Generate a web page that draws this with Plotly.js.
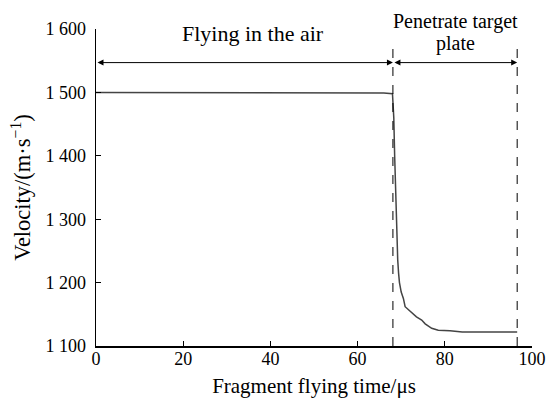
<!DOCTYPE html>
<html><head><meta charset="utf-8">
<script src="https://cdn.plot.ly/plotly-3.0.1.min.js"></script>
<style>html,body{margin:0;padding:0;background:#fff}</style>
</head><body>
<div id="chart" style="width:551px;height:405px"></div>
<script>
const time = [0, 5, 12, 13, 30, 50, 66, 68.0, 68.3, 68.5, 68.7, 69.0, 69.2, 69.4, 69.6, 70.0, 70.5, 70.9, 71.5, 72.5, 73.5, 74.7, 75.5, 77.0, 78.5, 81.2, 84, 88.8, 92, 96.6];
const velocity = [1500, 1500, 1500, 1499, 1499, 1499, 1499, 1498, 1460, 1400, 1341, 1280, 1236, 1215, 1200, 1185, 1175, 1162, 1158, 1152, 1146, 1141, 1135, 1128, 1125, 1124, 1122, 1122, 1122, 1122];
const phaseBounds = [0, 68.1, 96.6];
const flyLabel = "Flying in the air";
const penLabel1 = "Penetrate target";
const penLabel2 = "plate";
const arrowLevel = 1547;
const yTicks = [1100, 1200, 1300, 1400, 1500, 1600];
const yTickText = ["1 100", "1 200", "1 300", "1 400", "1 500", "1 600"];
const xTicks = [0, 20, 40, 60, 80, 100];

const fam = "'Times New Roman', 'Liberation Serif', serif";
const tickFont = {family: fam, size: 18, color: "#000"};
const titleFont = {family: fam, size: 21, color: "#000"};
const noteFont = {family: fam, size: 20, color: "#000"};

const shapes = [];
phaseBounds.slice(1).forEach(b => {
  shapes.push({type: "line", xref: "x", yref: "paper", x0: b, x1: b, y0: 0, y1: 0.94,
    line: {color: "#000", width: 1, dash: "dash"}});
});

const annotations = [];
for (let i = 0; i < phaseBounds.length - 1; i++) {
  annotations.push({x: phaseBounds[i + 1], y: arrowLevel, ax: phaseBounds[i], ay: arrowLevel,
    xref: "x", yref: "y", axref: "x", ayref: "y", text: "", showarrow: true,
    arrowhead: 2, startarrowhead: 2, arrowside: "end+start", arrowsize: 1.2, arrowwidth: 1, arrowcolor: "#000"});
}
const midFly = 36;
const midPen = (phaseBounds[1] + phaseBounds[2]) / 2;
annotations.push({x: midFly, y: arrowLevel, xref: "x", yref: "y", text: flyLabel, showarrow: false,
  yanchor: "middle", yshift: 29, font: {family: fam, size: 22, color: "#000"}});
annotations.push({x: midPen, y: arrowLevel, xref: "x", yref: "y", text: penLabel1, showarrow: false,
  yanchor: "middle", yshift: 41, font: noteFont});
annotations.push({x: midPen, y: arrowLevel, xref: "x", yref: "y", text: penLabel2, showarrow: false,
  yanchor: "middle", yshift: 19, font: noteFont});

Plotly.newPlot("chart", [{
  x: time, y: velocity, type: "scatter", mode: "lines",
  line: {color: "#444", width: 1.5}, hoverinfo: "skip"
}], {
  width: 551, height: 405,
  margin: {l: 96, r: 19, t: 29, b: 59},
  paper_bgcolor: "#fff", plot_bgcolor: "#fff",
  showlegend: false,
  font: tickFont,
  xaxis: {range: [0, 100], tickvals: xTicks, ticks: "inside", ticklen: 5, tickcolor: "#000",
    showline: true, linecolor: "#000", linewidth: 1.5, showgrid: false, zeroline: false,
    tickfont: tickFont, ticklabelstandoff: -4, title: {text: "Fragment flying time/μs", font: titleFont, standoff: 10}},
  yaxis: {range: [1100, 1600], tickvals: yTicks, ticktext: yTickText, ticks: "inside", ticklen: 5, tickcolor: "#000",
    showline: true, linecolor: "#000", linewidth: 1.5, showgrid: false, zeroline: false,
    tickfont: tickFont, ticklabelstandoff: 5, title: {text: "Velocity/(m·s<sup>−1</sup>)", font: {family: fam, size: 22.5, color: "#000"}, standoff: 8}},
  shapes: shapes,
  annotations: annotations
}, {displayModeBar: false, staticPlot: true});
</script>
</body></html>
